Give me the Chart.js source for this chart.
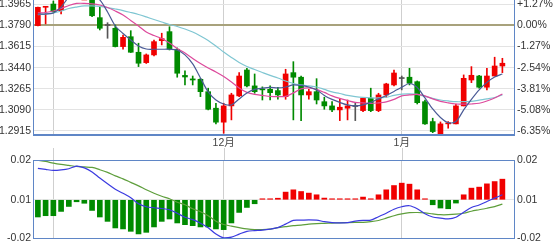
<!DOCTYPE html>
<html>
<head>
<meta charset="utf-8">
<script src="https://cdn.jsdelivr.net/npm/chart.js@4.4.1/dist/chart.umd.min.js"></script>
<style>
  html, body { margin: 0; padding: 0; background: #fff; overflow: hidden; width: 553px; height: 243px; position: relative; }
  #kline { position: absolute; left: 0; top: 0; }
  #macd { position: absolute; left: 0; top: 136px; }
</style>
</head>
<body>
<canvas id="kline" width="553" height="150"></canvas>
<canvas id="macd" width="553" height="110"></canvas>
<script>
// daily candles, one slot per trading day (last slot is empty)
const slotCount = 62;
const monthIndex = [2, 24, 47];
const monthLabels = ['', '12月', '1月'];

const opens = [1.3789,1.3941,1.3968,1.3913,1.4020,1.4050,1.4040,1.4030,1.3855,1.3790,
  1.3767,1.3615,1.3697,1.3568,1.3482,1.3546,1.3664,1.3739,1.3593,1.3376,
  1.3347,1.3344,1.3241,1.3104,1.2988,1.3123,1.3206,1.3421,1.3289,1.3264,
  1.3261,1.3250,1.3200,1.3399,1.3361,1.3214,1.3241,1.3158,1.3123,1.3090,
  1.3104,1.3118,1.3084,1.3187,1.3084,1.3214,1.3297,1.3350,1.3361,1.3324,
  1.3158,1.2993,1.2882,1.2974,1.2974,1.3123,1.3338,1.3371,1.3278,1.3371,1.3454];
const highs = [1.3943,1.3946,1.3993,1.4040,1.4070,1.4075,1.4068,1.4045,1.3946,1.3813,
  1.3794,1.3711,1.3747,1.3643,1.3554,1.3670,1.3726,1.3780,1.3604,1.3415,
  1.3371,1.3352,1.3270,1.3145,1.3145,1.3228,1.3399,1.3435,1.3388,1.3281,
  1.3289,1.3278,1.3427,1.3490,1.3371,1.3261,1.3349,1.3195,1.3158,1.3178,
  1.3172,1.3150,1.3195,1.3270,1.3228,1.3311,1.3421,1.3371,1.3435,1.3330,
  1.3172,1.3021,1.2990,1.2993,1.3139,1.3380,1.3449,1.3376,1.3435,1.3527,1.3518];
const lows = [1.3786,1.3803,1.3894,1.3885,1.4005,1.4010,1.4008,1.3863,1.3753,1.3684,
  1.3612,1.3593,1.3566,1.3449,1.3475,1.3537,1.3629,1.3587,1.3361,1.3297,
  1.3297,1.3200,1.3090,1.2974,1.2896,1.3007,1.3200,1.3280,1.3228,1.3172,
  1.3172,1.3178,1.3178,1.3007,1.3001,1.3178,1.3139,1.3095,1.3075,1.3001,
  1.3007,1.3001,1.3075,1.3075,1.3075,1.3195,1.3289,1.3256,1.3297,1.3139,
  1.2969,1.2901,1.2874,1.2938,1.2974,1.3123,1.3316,1.3270,1.3256,1.3371,1.3399];
const closes = [1.3941,1.3943,1.3905,1.4018,1.4050,1.4035,1.4045,1.3871,1.3767,1.3790,
  1.3615,1.3692,1.3568,1.3477,1.3546,1.3656,1.3681,1.3593,1.3394,1.3363,
  1.3338,1.3241,1.3095,1.2988,1.3123,1.3214,1.3371,1.3289,1.3241,1.3256,
  1.3233,1.3214,1.3388,1.3361,1.3214,1.3241,1.3172,1.3123,1.3090,1.3112,
  1.3123,1.3118,1.3187,1.3084,1.3214,1.3305,1.3396,1.3350,1.3311,1.3150,
  1.2974,1.2910,1.2974,1.2979,1.3123,1.3352,1.3377,1.3278,1.3371,1.3454,1.3477];

const ma5 = [1.3885,1.3885,1.3894,1.3943,1.4026,1.4068,1.4068,1.4043,1.4002,1.3902,
  1.3786,1.3724,1.3670,1.3620,1.3595,1.3593,1.3593,1.3593,1.3587,1.3546,
  1.3471,1.3355,1.3239,1.3172,1.3139,1.3131,1.3181,1.3231,1.3260,1.3270,
  1.3276,1.3272,1.3280,1.3297,1.3293,1.3280,1.3256,1.3210,1.3177,1.3152,
  1.3131,1.3123,1.3131,1.3152,1.3181,1.3210,1.3243,1.3278,1.3309,1.3276,
  1.3189,1.3098,1.3027,1.2984,1.2994,1.3090,1.3177,1.3256,1.3318,1.3363,1.3388];
const ma10 = [1.3894,1.3898,1.3910,1.3931,1.3956,1.3973,1.3974,1.3970,1.3960,1.3939,
  1.3910,1.3877,1.3832,1.3786,1.3736,1.3707,1.3682,1.3645,1.3599,1.3562,
  1.3517,1.3475,1.3438,1.3405,1.3367,1.3322,1.3272,1.3235,1.3218,1.3210,
  1.3202,1.3200,1.3202,1.3231,1.3264,1.3272,1.3260,1.3235,1.3206,1.3185,
  1.3168,1.3152,1.3148,1.3143,1.3148,1.3156,1.3177,1.3206,1.3214,1.3218,
  1.3206,1.3181,1.3160,1.3148,1.3139,1.3137,1.3139,1.3145,1.3164,1.3189,1.3222];
const ma20 = [1.3881,1.3885,1.3894,1.3910,1.3931,1.3943,1.3952,1.3952,1.3948,1.3939,
  1.3927,1.3914,1.3898,1.3881,1.3861,1.3840,1.3819,1.3798,1.3782,1.3761,
  1.3736,1.3703,1.3666,1.3620,1.3570,1.3525,1.3483,1.3450,1.3425,1.3400,
  1.3376,1.3355,1.3330,1.3309,1.3297,1.3289,1.3280,1.3260,1.3239,1.3226,
  1.3210,1.3200,1.3193,1.3189,1.3189,1.3195,1.3210,1.3220,1.3222,1.3218,
  1.3202,1.3185,1.3172,1.3164,1.3158,1.3158,1.3160,1.3171,1.3181,1.3193,1.3214];

const dif = [0.01621,0.01565,0.01513,0.01539,0.01601,0.01734,0.01642,0.01436,0.01118,0.00821,
  0.00539,0.00333,0.00103,-0.00205,-0.00359,-0.00410,-0.00451,-0.00513,-0.00693,-0.00898,
  -0.01026,-0.01206,-0.01436,-0.01770,-0.01965,-0.01924,-0.01770,-0.01626,-0.01590,-0.01565,
  -0.01513,-0.01436,-0.01257,-0.01062,-0.01052,-0.01036,-0.01052,-0.01129,-0.01180,-0.01195,
  -0.01180,-0.01103,-0.01062,-0.01052,-0.00872,-0.00693,-0.00487,-0.00359,-0.00308,-0.00462,
  -0.00718,-0.00887,-0.00944,-0.00985,-0.00898,-0.00641,-0.00400,-0.00267,-0.00092,0.00087,0.00257];
const dea = [0.0204,0.01975,0.01888,0.01821,0.01770,0.01719,0.01693,0.01667,0.01549,0.01411,
  0.01231,0.01077,0.00898,0.00718,0.00513,0.00333,0.00180,0.00051,-0.00128,-0.00257,
  -0.00462,-0.00616,-0.00821,-0.01103,-0.01272,-0.01359,-0.01436,-0.01503,-0.01539,-0.01539,
  -0.01513,-0.01436,-0.01385,-0.01334,-0.01308,-0.01257,-0.01231,-0.01216,-0.01200,-0.01190,
  -0.01175,-0.01165,-0.01165,-0.01129,-0.01067,-0.00949,-0.00821,-0.00728,-0.00667,-0.00657,
  -0.00677,-0.00728,-0.00770,-0.00770,-0.00744,-0.00693,-0.00590,-0.00513,-0.00436,-0.00349,-0.00221];
const hist = [-0.00887,-0.00821,-0.00821,-0.00600,-0.00344,-0.00103,-0.00180,-0.00549,-0.00887,-0.01113,
  -0.01452,-0.01503,-0.01626,-0.01760,-0.01678,-0.01400,-0.01113,-0.00990,-0.01195,-0.01283,
  -0.01334,-0.01400,-0.01400,-0.01503,-0.01539,-0.01195,-0.00652,-0.00395,-0.00205,0.0003,
  0.0004,0.0008,0.00395,0.00513,0.00426,0.00344,0.00257,0.00087,0.0004,0.0001,
  0.0003,0.0003,0.00139,0.0005,0.00257,0.00513,0.00734,0.00857,0.00805,0.00513,
  0.0005,-0.00257,-0.00426,-0.00462,-0.00169,0.00257,0.00600,0.00652,0.00821,0.00939,0.01062];

const priceTicks = [1.2915, 1.3090, 1.3265, 1.3440, 1.3615, 1.3790, 1.3965];
const pctLabels = ['-6.35%', '-5.08%', '-3.81%', '-2.54%', '-1.27%', '0.00%', '+1.27%'];
const basePrice = 1.3790;
const macdTicks = [-0.0197, 0, 0.0205];
const macdLabels = ['-0.02', '0.01', '0.02'];

const UP = '#f00000', DOWN = '#008a00', FLAT = '#555';
const FRAME = '#5f86c6';

const slots = Array.from({length: slotCount}, (_, i) => i);
const candleColor = i => closes[i] > opens[i] ? UP : (closes[i] < opens[i] ? DOWN : FLAT);

Chart.defaults.font.family = '"Liberation Sans", Arial, "Noto Sans CJK SC", sans-serif';
Chart.defaults.font.size = 10.5;
Chart.defaults.color = '#333';

const frame = {
  id: 'frame',
  afterDatasetsDraw(chart, args, opts) {
    const {ctx, chartArea: a} = chart;
    ctx.save();
    ctx.strokeStyle = FRAME;
    ctx.lineWidth = 1;
    ctx.beginPath();
    if (opts.sides.includes('left')) { ctx.moveTo(a.left - 0.5, a.top); ctx.lineTo(a.left - 0.5, a.bottom); }
    if (opts.sides.includes('right')) { ctx.moveTo(a.right + 0.5, a.top); ctx.lineTo(a.right + 0.5, a.bottom); }
    if (opts.sides.includes('top')) { ctx.moveTo(a.left - 1, a.top + 0.5); ctx.lineTo(a.right + 1, a.top + 0.5); }
    ctx.stroke();
    if (opts.sides.includes('bottom')) {
      ctx.lineWidth = opts.bottomWidth || 1;
      ctx.beginPath();
      ctx.moveTo(a.left - 1, a.bottom + ctx.lineWidth / 2);
      ctx.lineTo(a.right + 1, a.bottom + ctx.lineWidth / 2);
      ctx.stroke();
    }
    // month lines running up through the gap above the panel
    if (opts.gapTop !== undefined) {
      const x = chart.scales.x;
      ctx.strokeStyle = '#cfcfcf';
      ctx.lineWidth = 1;
      ctx.beginPath();
      monthIndex.forEach(m => {
        const px = Math.round(x.getPixelForValue(m)) + 0.5;
        ctx.moveTo(px, opts.gapTop); ctx.lineTo(px, a.top);
      });
      ctx.stroke();
    }
    ctx.restore();
  }
};

const monthGrid = {
  display: true,
  offset: false,
  drawTicks: false,
  color: c => monthIndex.includes(c.index) ? '#cfcfcf' : 'rgba(0,0,0,0)'
};

const yAxis = (ticks, labels, extra) => Object.assign({
  afterBuildTicks: s => { s.ticks = ticks.map(value => ({value})); },
  ticks: { padding: 3, callback: (v, i) => labels[i] },
  border: { display: false }
}, extra);

new Chart(document.getElementById('kline'), {
  type: 'bar',
  data: {
    labels: slots,
    datasets: [
      { type: 'line', data: ma5, borderColor: '#4a5a96', borderWidth: 1.2, pointRadius: 0, tension: 0.3, order: 0 },
      { type: 'line', data: ma10, borderColor: '#dd4a9c', borderWidth: 1.2, pointRadius: 0, tension: 0.3, order: 0 },
      { type: 'line', data: ma20, borderColor: '#7fc6d2', borderWidth: 1.2, pointRadius: 0, tension: 0.3, order: 0 },
      { data: lows.map((l, i) => [l, highs[i]]), backgroundColor: c => candleColor(c.dataIndex),
        barThickness: 1, grouped: false, order: 2 },
      { data: opens.map((o, i) => [o, closes[i]]), backgroundColor: c => candleColor(c.dataIndex),
        barThickness: 5, minBarLength: 1, grouped: false, order: 1 }
    ]
  },
  options: {
    responsive: false,
    animation: false,
    layout: { padding: 0 },
    plugins: { legend: { display: false }, tooltip: { enabled: false }, frame: { sides: ['left', 'right', 'bottom'], bottomWidth: 2 } },
    scales: {
      x: {
        offset: true,
        grid: monthGrid,
        border: { display: false },
        ticks: {
          autoSkip: false, maxRotation: 0, padding: 3, color: '#444',
          callback: (v, i) => { const k = monthIndex.indexOf(i); return k >= 0 ? monthLabels[k] : ''; }
        },
        afterFit: s => { s.height = 16; s.paddingLeft = 0; s.paddingRight = 0; }
      },
      y: yAxis(priceTicks, priceTicks.map(v => v.toFixed(4)), {
        min: 1.2890, max: 1.40015,
        grid: {
          drawTicks: false,
          color: c => Math.abs(c.tick.value - basePrice) < 1e-6 ? '#a8a27c' : '#e3e3e3',
          lineWidth: c => Math.abs(c.tick.value - basePrice) < 1e-6 ? 2 : 1
        },
        afterFit: s => { s.width = 34; s.paddingTop = 0; s.paddingBottom = 0; }
      }),
      y2: yAxis(priceTicks, pctLabels, {
        position: 'right',
        min: 1.2890, max: 1.40015,
        grid: { display: false, drawTicks: false },
        afterFit: s => { s.width = 39; s.paddingTop = 0; s.paddingBottom = 0; }
      })
    }
  },
  plugins: [frame]
});

new Chart(document.getElementById('macd'), {
  type: 'bar',
  data: {
    labels: slots,
    datasets: [
      { type: 'line', data: dif, borderColor: '#3b3be0', borderWidth: 1.2, pointRadius: 0, tension: 0.3, order: 0 },
      { type: 'line', data: dea, borderColor: '#5e9e3c', borderWidth: 1.2, pointRadius: 0, tension: 0.3, order: 0 },
      { data: hist, backgroundColor: c => hist[c.dataIndex] > 0 ? UP : DOWN,
        barThickness: 5, minBarLength: 1, order: 1 }
    ]
  },
  options: {
    responsive: false,
    animation: false,
    layout: { padding: { top: 24, bottom: 8 } },
    plugins: { legend: { display: false }, tooltip: { enabled: false }, frame: { sides: ['left', 'right', 'top', 'bottom'], gapTop: 12 } },
    scales: {
      x: {
        offset: true,
        grid: monthGrid,
        border: { display: false },
        ticks: { display: false },
        afterFit: s => { s.height = 0; s.paddingLeft = 0; s.paddingRight = 0; }
      },
      y: yAxis(macdTicks, macdLabels, {
        min: -0.0197, max: 0.0205,
        grid: { drawTicks: false, color: c => c.tick.value === 0 ? '#e6e6e6' : 'rgba(0,0,0,0)' },
        afterFit: s => { s.width = 34; s.paddingTop = 0; s.paddingBottom = 0; }
      }),
      y2: yAxis(macdTicks, macdLabels, {
        position: 'right',
        min: -0.0197, max: 0.0205,
        grid: { display: false, drawTicks: false },
        afterFit: s => { s.width = 39; s.paddingTop = 0; s.paddingBottom = 0; }
      })
    }
  },
  plugins: [frame]
});
</script>
</body>
</html>
